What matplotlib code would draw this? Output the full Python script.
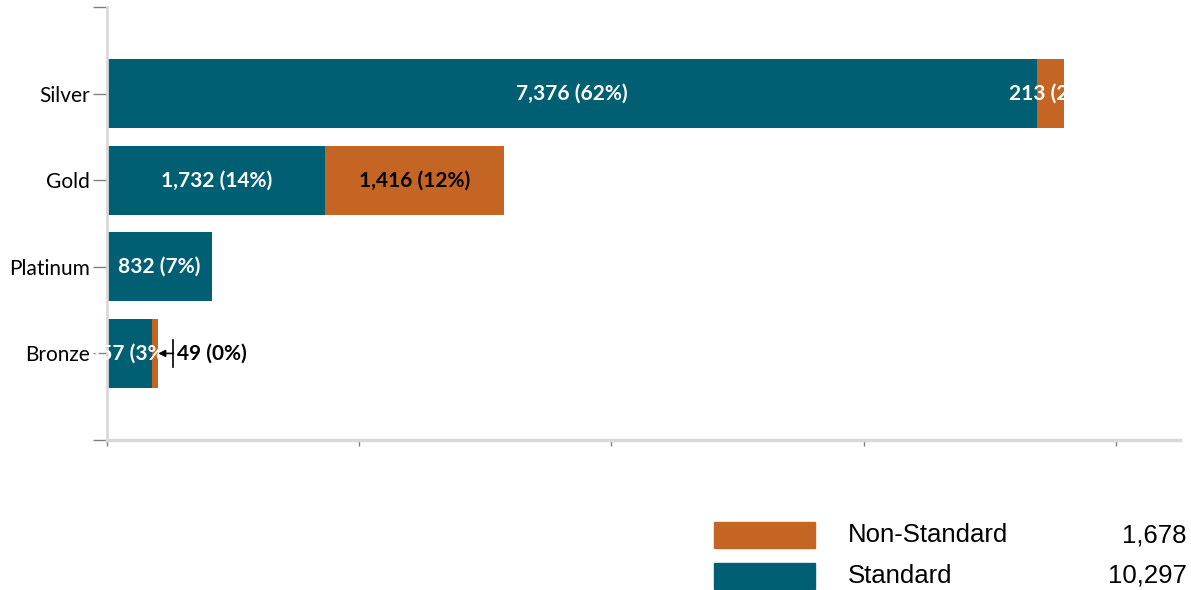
import matplotlib.pyplot as plt
from matplotlib.patches import Rectangle
from matplotlib.transforms import offset_copy

# data
categories = ["Silver", "Gold", "Platinum", "Bronze"]
standard = [7376, 1732, 832, 357]
non_standard = [213, 1416, 0, 49]
series_names = ["Non-Standard", "Standard"]

teal = "#005f73"
orange = "#c46523"

total = sum(standard) + sum(non_standard)

fig = plt.figure(figsize=(11.91, 5.90), dpi=100)
ax = fig.add_axes([0.0898, 0.2542, 0.9010, 0.7338])

ypos = [3, 2, 1, 0]
bar_h = 0.8

def label(v):
    return f"{v:,} ({round(100 * v / total)}%)"

std_bars = ax.barh(ypos, standard, height=bar_h, color=teal, zorder=2)
non_bars = ax.barh(ypos, non_standard, left=standard, height=bar_h, color=orange, zorder=2)

lab_font = dict(family="Lato", fontweight="bold", fontsize=15)

for y, s, bar in zip(ypos, standard, std_bars):
    t = ax.text(s / 2, y, label(s), ha="center", va="center", color="white", zorder=3, **lab_font)
    t.set_clip_path(bar)

for y, s, n, bar, cat in zip(ypos, standard, non_standard, non_bars, categories):
    if n == 0:
        continue
    if cat == "Bronze":
        end = s + n
        ax.annotate("", xy=(end, y), xytext=(11, 0), textcoords="offset points",
                    arrowprops=dict(arrowstyle="-|>", color="black", lw=1.2,
                                    shrinkA=0, shrinkB=0, mutation_scale=10), zorder=4)
        tr = offset_copy(ax.transData, fig=fig, x=11, y=0, units="points")
        ax.plot([end, end], [y - 0.16, y + 0.16], color="black", lw=1.2, transform=tr, zorder=4)
        tr2 = offset_copy(ax.transData, fig=fig, x=13.5, y=0, units="points")
        ax.text(end, y, label(n), ha="left", va="center", color="black", transform=tr2,
                zorder=4, **lab_font)
    else:
        color = "white" if cat == "Silver" else "black"
        t = ax.text(s + n / 2, y, label(n), ha="center", va="center", color=color, zorder=3, **lab_font)
        t.set_clip_path(bar)

ax.set_xlim(0, 8510)
ax.set_ylim(-1, 4)
ax.set_xticks([0, 2000, 4000, 6000, 8000])
ax.set_xticklabels([])
ax.set_yticks(ypos)
ax.set_yticklabels(categories, family="Lato", fontsize=15)
ax.set_yticks([-1, 4], minor=True)

for side in ["top", "right"]:
    ax.spines[side].set_visible(False)
ax.spines["left"].set_color("#d9d9d9")
ax.spines["left"].set_linewidth(2)
ax.spines["bottom"].set_color("#d9d9d9")
ax.spines["bottom"].set_linewidth(2.5)
ax.tick_params(axis="y", which="both", length=10, width=1, color="#808080", pad=2)
ax.tick_params(axis="x", length=4.5, width=1, color="#808080", direction="out")

# legend drawn as figure elements
legend_rows = [(series_names[0], orange, sum(non_standard), 548),
               (series_names[1], teal, sum(standard), 589)]
for name, color, value, ybot in legend_rows:
    fig.patches.append(Rectangle((714 / 1191, 1 - ybot / 590), 101 / 1191, 26 / 590,
                                 transform=fig.transFigure, color=color))
    yc = 1 - (ybot - 13) / 590
    fig.text(848 / 1191, yc, name, ha="left", va="center", family="Liberation Sans", fontsize=18.5)
    fig.text(1187 / 1191, yc, f"{value:,}", ha="right", va="center", family="Liberation Sans", fontsize=18.5)

fig.savefig("out.png", dpi=100)
